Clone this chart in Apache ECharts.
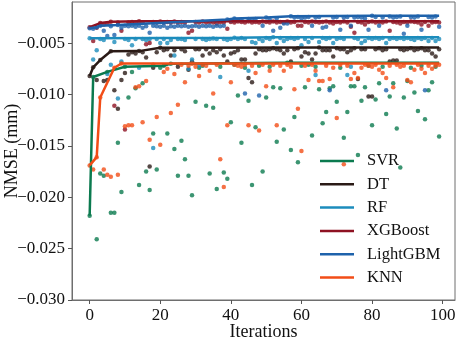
<!DOCTYPE html>
<html>
<head>
<meta charset="utf-8">
<script src="https://cdn.jsdelivr.net/npm/echarts@6/dist/echarts.min.js"></script>
<style>
  html, body { margin: 0; padding: 0; background: #fff; }
  #chart { width: 457px; height: 338px; }
</style>
</head>
<body>
<div id="chart"></div>
<script>
// NMSE per iteration for each model
var modelNames = ['SVR', 'DT', 'RF', 'XGBoost', 'LightGBM', 'KNN'];
var modelColors = ['#0b7a4f', '#2a1a16', '#1c8cbc', '#8e1222', '#1e62ab', '#f24d17'];
var xTicks = [0, 20, 40, 60, 80, 100];
var yTicks = [-0.030, -0.025, -0.020, -0.015, -0.010, -0.005];

var svrValues = [
  -0.0218, -0.0083, -0.0241, -0.0177, -0.0179, -0.0078, -0.0215, -0.0215, -0.0147, -0.0195,
  -0.0073, -0.0103, -0.0078, -0.0094, -0.0188, -0.0089, -0.0175, -0.0193, -0.0138, -0.0173,
  -0.0074, -0.0072, -0.0138, -0.0070, -0.0153, -0.0179, -0.0145, -0.0163, -0.0179, -0.0198,
  -0.0107, -0.0074, -0.0072, -0.0111, -0.0177, -0.0113, -0.0192, -0.0073, -0.0176, -0.0182,
  -0.0127, -0.0071, -0.0101, -0.0147, -0.0074, -0.0106, -0.0188, -0.0132, -0.0072, -0.0175,
  -0.0103, -0.0073, -0.0093, -0.0146, -0.0094, -0.0134, -0.0069, -0.0154, -0.0122, -0.0166,
  -0.0072, -0.0093, -0.0071, -0.0140, -0.0073, -0.0095, -0.0128, -0.0117, -0.0094, -0.0092,
  -0.0107, -0.0074, -0.0142, -0.0117, -0.0092, -0.0092, -0.0159, -0.0106, -0.0093, -0.0072,
  -0.0130, -0.0105, -0.0089, -0.0073, -0.0119, -0.0102, -0.0089, -0.0133, -0.0171, -0.0103,
  -0.0087, -0.0074, -0.0098, -0.0116, -0.0072, -0.0124, -0.0096, -0.0088, -0.0073, -0.0141
];
var dtValues = [
  -0.0082, -0.00735, -0.0086, -0.00665, -0.0087, -0.0086, -0.0058, -0.0096, -0.0114, -0.0086,
  -0.0079, -0.0061, -0.0059, -0.0060, -0.00578, -0.0059, -0.0064, -0.0170, -0.0074, -0.0059,
  -0.00546, -0.0057, -0.0056, -0.0062, -0.0057, -0.0073, -0.0056, -0.0058, -0.0076, -0.0068,
  -0.0056, -0.0056, -0.0062, -0.0056, -0.0060, -0.0057, -0.0059, -0.0056, -0.0062, -0.0068,
  -0.0060, -0.0059, -0.0057, -0.0066, -0.0066, -0.0084, -0.0088, -0.0060, -0.0056, -0.0057,
  -0.0057, -0.0056, -0.0055, -0.0056, -0.0057, -0.0060, -0.0057, -0.0068, -0.0056, -0.0055,
  -0.0063, -0.0059, -0.0060, -0.0066, -0.0060, -0.00542, -0.0057, -0.0057, -0.0057, -0.0063,
  -0.0055, -0.0056, -0.0056, -0.0059, -0.0057, -0.0055, -0.0085, -0.0056, -0.0056, -0.0102,
  -0.0102, -0.0056, -0.0055, -0.0057, -0.0056, -0.0068, -0.0067, -0.0067, -0.0056, -0.0057,
  -0.0056, -0.0055, -0.0057, -0.0056, -0.0055, -0.0057, -0.0057, -0.0060, -0.0063, -0.0056
];
var rfValues = [
  -0.00452, -0.0066, -0.0057, -0.0046, -0.0047, -0.0080, -0.0071, -0.0049, -0.0104, -0.0068,
  -0.0046, -0.0047, -0.0052, -0.0046, -0.0074, -0.0046, -0.0047, -0.0046, -0.0152, -0.0046,
  -0.0050, -0.0046, -0.0050, -0.0047, -0.0062, -0.0046, -0.0046, -0.0047, -0.0075, -0.0066,
  -0.0046, -0.0072, -0.0046, -0.0047, -0.0046, -0.00455, -0.0046, -0.0083, -0.0046, -0.0047,
  -0.0046, -0.00447, -0.0046, -0.0045, -0.0046, -0.0077, -0.0049, -0.0050, -0.0046, -0.0048,
  -0.0045, -0.0046, -0.00443, -0.0050, -0.0045, -0.0048, -0.0046, -0.0045, -0.0046, -0.0045,
  -0.0052, -0.0046, -0.0049, -0.0045, -0.0081, -0.0049, -0.0045, -0.0046, -0.0045, -0.0050,
  -0.0046, -0.0045, -0.0046, -0.0081, -0.0073, -0.0045, -0.0046, -0.0050, -0.0048, -0.0045,
  -0.0046, -0.0045, -0.0046, -0.0045, -0.0050, -0.0046, -0.0045, -0.0046, -0.0045, -0.0046,
  -0.0045, -0.0046, -0.0047, -0.0045, -0.0046, -0.0045, -0.0048, -0.0045, -0.0048, -0.0046
];
var xgbValues = [
  -0.00345, -0.0048, -0.0035, -0.00305, -0.0032, -0.0031, -0.00292, -0.0111, -0.0030, -0.0038,
  -0.0134, -0.0030, -0.00295, -0.0030, -0.00287, -0.0030, -0.0051, -0.0050, -0.00295, -0.0030,
  -0.0029, -0.0030, -0.00295, -0.0030, -0.0029, -0.0030, -0.00295, -0.0030, -0.0040, -0.0038,
  -0.00295, -0.0030, -0.0029, -0.0030, -0.00295, -0.0030, -0.0031, -0.00295, -0.0030, -0.0036,
  -0.00295, -0.0030, -0.0029, -0.00295, -0.0030, -0.0029, -0.0030, -0.00295, -0.0030, -0.0029,
  -0.00295, -0.0030, -0.0029, -0.0030, -0.00295, -0.0030, -0.0029, -0.0030, -0.00295, -0.0033,
  -0.0033, -0.00295, -0.0030, -0.0029, -0.00295, -0.0030, -0.00295, -0.0029, -0.0030, -0.0031,
  -0.00295, -0.0030, -0.0029, -0.0030, -0.0034, -0.0040, -0.00295, -0.0030, -0.0032, -0.00295,
  -0.0029, -0.0030, -0.00295, -0.0030, -0.0029, -0.0038, -0.00295, -0.0030, -0.0031, -0.00295,
  -0.0030, -0.0029, -0.00295, -0.0030, -0.0032, -0.00295, -0.0033, -0.0030, -0.00295, -0.0030
];
var lgbmValues = [
  -0.00355, -0.0036, -0.00345, -0.0033, -0.0038, -0.0043, -0.00335, -0.0042, -0.00325, -0.0035,
  -0.0033, -0.00335, -0.0033, -0.0034, -0.0033, -0.0035, -0.00335, -0.0040, -0.0033, -0.00335,
  -0.0034, -0.0033, -0.0035, -0.00335, -0.0034, -0.0033, -0.00335, -0.0033, -0.0034, -0.00335,
  -0.0033, -0.0034, -0.0033, -0.00335, -0.0033, -0.0034, -0.0033, -0.00335, -0.0033, -0.0027,
  -0.0028, -0.0026, -0.00275, -0.0027, -0.0099, -0.00265, -0.0027, -0.00265, -0.0101, -0.0033,
  -0.00252, -0.0027, -0.0038, -0.0026, -0.0035, -0.0031, -0.0031, -0.00238, -0.0025, -0.00245,
  -0.0026, -0.0025, -0.00245, -0.0033, -0.0025, -0.00245, -0.0035, -0.0034, -0.0096, -0.0025,
  -0.00245, -0.0037, -0.0025, -0.00245, -0.0033, -0.0025, -0.00245, -0.0025, -0.0026, -0.0037,
  -0.00234, -0.00245, -0.0033, -0.0025, -0.0096, -0.0024, -0.0025, -0.00245, -0.0024, -0.0041,
  -0.0033, -0.00245, -0.0025, -0.0024, -0.0037, -0.0096, -0.00245, -0.0025, -0.0024, -0.0034
];
var knnValues = [
  -0.0169, -0.0173, -0.0161, -0.0103, -0.0173, -0.0178, -0.0180, -0.0074, -0.0178, -0.00698,
  -0.0131, -0.0130, -0.0130, -0.0093, -0.0092, -0.0127, -0.0087, -0.0144, -0.0071, -0.0122,
  -0.0149, -0.0078, -0.0075, -0.0118, -0.0080, -0.0110, -0.0071, -0.0088, -0.0072, -0.0070,
  -0.0073, -0.0082, -0.0071, -0.0072, -0.0077, -0.0099, -0.0071, -0.0163, -0.0190, -0.0130,
  -0.0088, -0.0071, -0.0072, -0.0073, -0.0071, -0.0130, -0.0072, -0.0079, -0.0135, -0.0071,
  -0.0092, -0.0077, -0.0071, -0.0130, -0.0072, -0.0077, -0.0071, -0.0073, -0.0095, -0.0114,
  -0.0155, -0.0072, -0.0086, -0.0071, -0.0077, -0.0087, -0.0087, -0.0072, -0.0085, -0.0074,
  -0.0123, -0.0071, -0.0168, -0.0072, -0.0085, -0.0079, -0.0084, -0.0074, -0.0071, -0.0072,
  -0.0073, -0.0071, -0.0076, -0.0079, -0.0084, -0.0072, -0.0093, -0.0071, -0.0073, -0.0072,
  -0.0086, -0.0088, -0.0076, -0.0071, -0.0075, -0.0079, -0.0072, -0.0075, -0.0072, -0.0071
];
var modelValues = [svrValues, dtValues, rfValues, xgbValues, lgbmValues, knnValues];

var serifFont = 'Liberation Serif';

function fmtTick(v) {
  return (v < 0 ? '\u2212' : '') + Math.abs(v).toFixed(3);
}

// best-so-far curve, keeping only the iterations where it improves
function bestSoFar(values) {
  var out = [];
  var best = -Infinity;
  values.forEach(function (v, i) {
    if (v > best) {
      best = v;
      out.push([i, best]);
    }
  });
  out.push([values.length - 1, best]);
  return out;
}

var series = [];
modelNames.forEach(function (name, k) {
  series.push({
    name: name + ' points',
    type: 'scatter',
    symbolSize: 4.5,
    z: 2,
    itemStyle: { color: modelColors[k] },
    data: modelValues[k].map(function (v, i) { return [i, v]; })
  });
});
modelNames.forEach(function (name, k) {
  series.push({
    name: name,
    type: 'line',
    symbol: 'none',
    z: 3,
    lineStyle: { color: modelColors[k], width: 2.5 },
    itemStyle: { color: modelColors[k] },
    data: bestSoFar(modelValues[k])
  });
});

var chart = echarts.init(document.getElementById('chart'));
chart.setOption({
  animation: false,
  grid: {
    left: 72, right: 2, top: 2, bottom: 38,
    outerBoundsMode: 'none',
    show: true, borderColor: '#6e6e6e', borderWidth: 1
  },
  legend: {
    data: modelNames,
    orient: 'vertical',
    left: 320,
    top: 152,
    padding: 0,
    icon: 'rect',
    itemWidth: 34,
    itemHeight: 2.5,
    itemGap: 5.3,
    textStyle: { fontFamily: serifFont, fontSize: 16.5, color: '#111', height: 18, lineHeight: 18,
      padding: [0, 0, 0, 8] }
  },
  xAxis: {
    type: 'value',
    min: -5,
    max: 103.5,
    name: 'Iterations',
    nameLocation: 'middle',
    nameGap: 23,
    nameMoveOverlap: false,
    nameTextStyle: { fontFamily: serifFont, fontSize: 18, color: '#111' },
    axisLine: { show: true, onZero: false, lineStyle: { color: '#6e6e6e' } },
    axisTick: { show: true, length: 4, lineStyle: { color: '#555' }, customValues: xTicks },
    axisLabel: { fontFamily: serifFont, fontSize: 17, color: '#111', margin: 7, customValues: xTicks },
    splitLine: { show: false }
  },
  yAxis: {
    type: 'value',
    min: -0.030,
    max: -0.001,
    name: 'NMSE (mm)',
    nameLocation: 'middle',
    nameGap: 51,
    nameMoveOverlap: false,
    nameTextStyle: { fontFamily: serifFont, fontSize: 18, color: '#111' },
    axisLine: { show: true, onZero: false, lineStyle: { color: '#6e6e6e' } },
    axisTick: { show: true, length: 4, lineStyle: { color: '#555' }, customValues: yTicks },
    axisLabel: { fontFamily: serifFont, fontSize: 17, color: '#111', margin: 7,
      customValues: yTicks, formatter: fmtTick },
    splitLine: { show: false }
  },
  series: series
});
</script>
</body>
</html>
